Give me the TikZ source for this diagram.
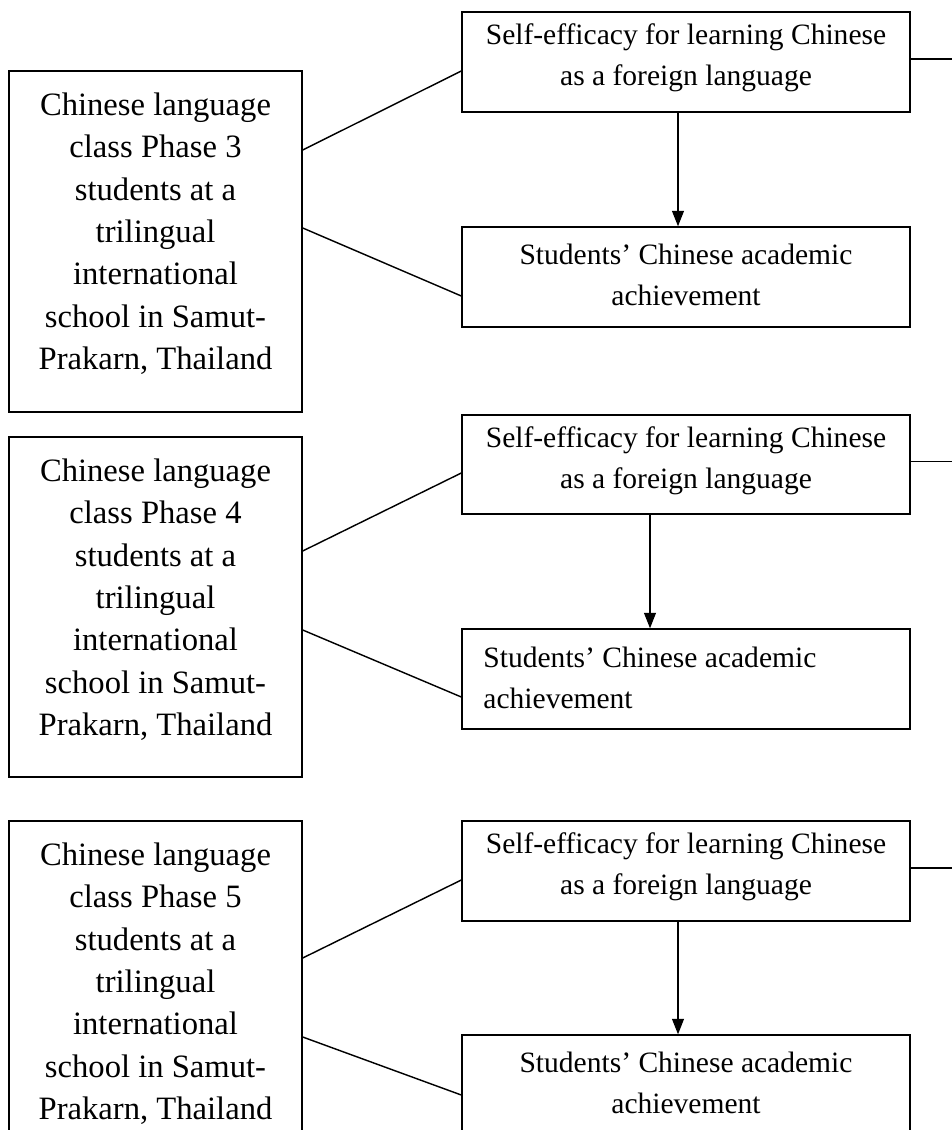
\documentclass[tikz,border=0pt]{standalone}
\usepackage{fontspec}
\setmainfont{Liberation Serif}
\usetikzlibrary{positioning, arrows.meta, calc}
\newcommand{\upx}{0.42pt}

\begin{document}
\begin{tikzpicture}[
        x=\upx, y=-\upx,
        frame/.style={draw, line width=0.6pt, inner sep=0pt},
        grpbox/.style={frame, minimum width=293*\upx, minimum height=341*\upx},
        varbox/.style={frame, minimum width=448*\upx, minimum height=100*\upx},
        grptext/.style={font=\fontsize{13.7}{17.8}\selectfont, align=center, inner sep=0pt, anchor=north},
        vartext/.style={font=\fontsize{12.4}{17.2}\selectfont, align=center, inner sep=0pt, anchor=north},
        arr/.style={-{Triangle[width=5pt, length=6.5pt]}, line width=0.6pt},
        link/.style={line width=0.6pt},
    ]
    \useasboundingbox (0,0) rectangle (951,1130);
    \coordinate (edge) at (960,0);

    % === Phase 3 ===
    \node[grpbox, label={[grptext, yshift=-22*\upx]above:Chinese language\\class Phase 3\\students at a\\trilingual\\international\\school in Samut-\\Prakarn, Thailand}] (p3) at (155.5,241.5) {};
    \node[varbox, label={[vartext, yshift=-12*\upx]above:Self-efficacy for learning Chinese\\as a foreign language}] (s3) at (686,62) {};
    \node[varbox, label={[vartext, yshift=-17*\upx]above:Students’ Chinese academic\\achievement}] (a3) at (686,277) {};
    \draw[link] ([yshift=91.5*\upx]p3.east) -- ([yshift=-9*\upx]s3.west);
    \draw[link] ([yshift=13.5*\upx]p3.east) -- ([yshift=-19*\upx]a3.west);
    \draw[arr] ([xshift=-8*\upx]s3.south) -- ([xshift=-8*\upx]a3.north);
    \draw[link] ([yshift=3*\upx]s3.east) -- ([yshift=3*\upx]s3.east -| edge);

    % === Phase 4 ===
    \node[grpbox, minimum height=340*\upx, label={[grptext, yshift=-22*\upx]above:Chinese language\\class Phase 4\\students at a\\trilingual\\international\\school in Samut-\\Prakarn, Thailand}] (p4) at (155.5,607) {};
    \node[varbox, minimum height=99*\upx, label={[vartext, yshift=-12*\upx]above:Self-efficacy for learning Chinese\\as a foreign language}] (s4) at (686,464.5) {};
    \node[varbox, label={[vartext, align=left, anchor=north west, xshift=-203*\upx, yshift=-18*\upx]above:Students’ Chinese academic\\achievement}] (a4) at (686,679) {};
    \draw[link] ([yshift=56*\upx]p4.east) -- ([yshift=-8.5*\upx]s4.west);
    \draw[link] ([yshift=-23*\upx]p4.east) -- ([yshift=-18*\upx]a4.west);
    \draw[arr] ([xshift=-36*\upx]s4.south) -- ([xshift=-36*\upx]a4.north);
    \draw[link] ([yshift=3*\upx]s4.east) -- ([yshift=3*\upx]s4.east -| edge);

    % === Phase 5 ===
    \node[grpbox, label={[grptext, yshift=-22*\upx]above:Chinese language\\class Phase 5\\students at a\\trilingual\\international\\school in Samut-\\Prakarn, Thailand}] (p5) at (155.5,991.5) {};
    \node[varbox, label={[vartext, yshift=-12*\upx]above:Self-efficacy for learning Chinese\\as a foreign language}] (s5) at (686,871) {};
    \node[varbox, label={[vartext, yshift=-17*\upx]above:Students’ Chinese academic\\achievement}] (a5) at (686,1085) {};
    \draw[link] ([yshift=33.5*\upx]p5.east) -- ([yshift=-9*\upx]s5.west);
    \draw[link] ([yshift=-45.5*\upx]p5.east) -- ([yshift=-10*\upx]a5.west);
    \draw[arr] ([xshift=-8*\upx]s5.south) -- ([xshift=-8*\upx]a5.north);
    \draw[link] ([yshift=3*\upx]s5.east) -- ([yshift=3*\upx]s5.east -| edge);
\end{tikzpicture}
\end{document}
